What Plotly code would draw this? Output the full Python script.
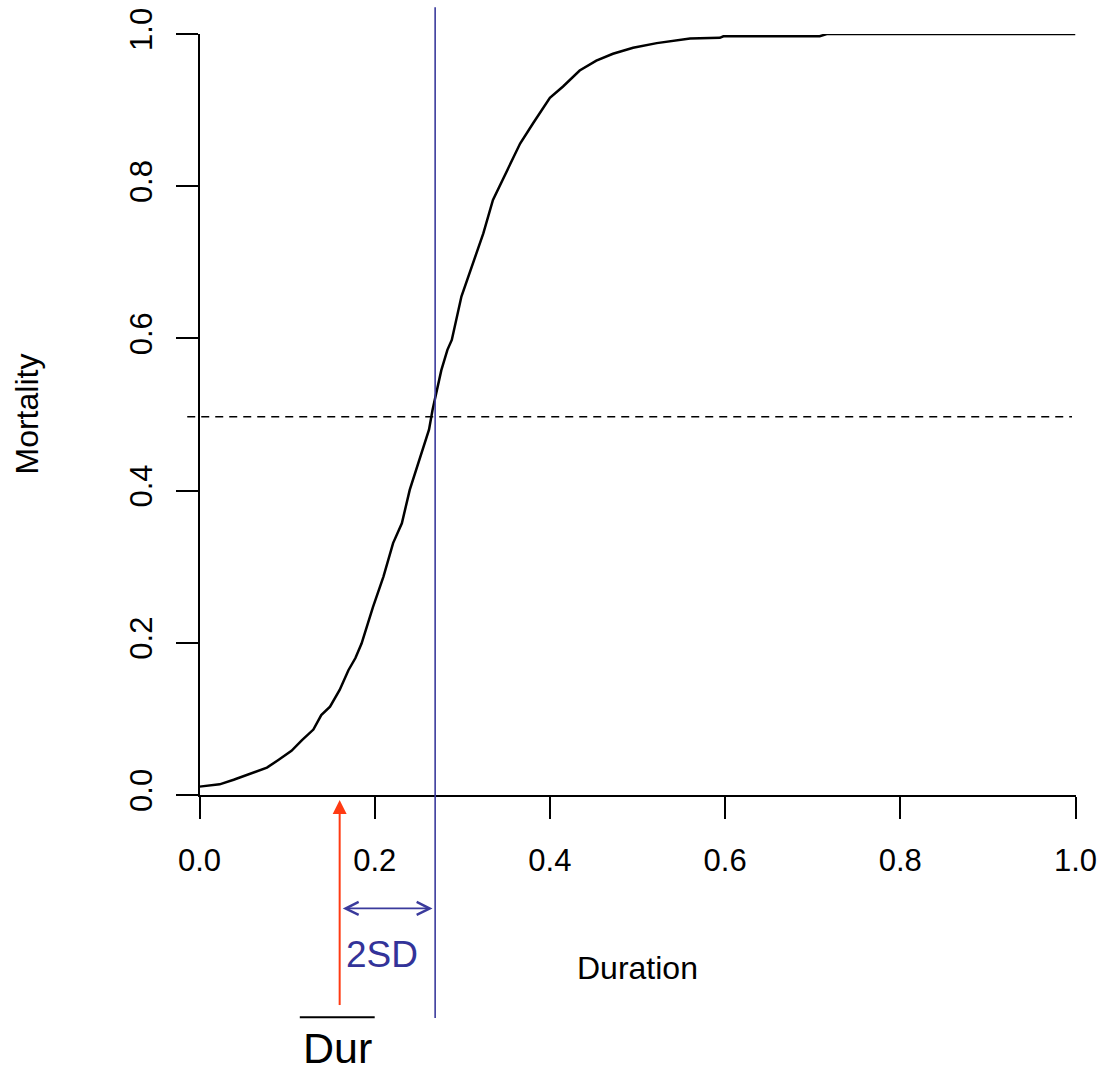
import plotly.graph_objects as go

# ---------------------------------------------------------------- data
duration = [0.000, 0.010, 0.023, 0.039, 0.056, 0.077, 0.090, 0.105, 0.117,
            0.130, 0.139, 0.149, 0.160, 0.170, 0.178, 0.185, 0.198, 0.210,
            0.221, 0.231, 0.240, 0.250, 0.257, 0.262, 0.266, 0.270, 0.276,
            0.283, 0.288, 0.299, 0.313, 0.324, 0.335, 0.353, 0.366, 0.381,
            0.400, 0.415, 0.434, 0.453, 0.472, 0.495, 0.522, 0.560, 0.594,
            0.598, 0.708, 0.716, 1.000]
mortality = [0.011, 0.012, 0.014, 0.020, 0.027, 0.036, 0.046, 0.058, 0.072,
             0.086, 0.105, 0.116, 0.138, 0.164, 0.180, 0.199, 0.247, 0.287,
             0.331, 0.357, 0.401, 0.436, 0.462, 0.480, 0.506, 0.528, 0.558,
             0.585, 0.598, 0.655, 0.703, 0.738, 0.782, 0.826, 0.856, 0.883,
             0.916, 0.931, 0.952, 0.965, 0.974, 0.982, 0.988, 0.994, 0.995,
             0.997, 0.997, 1.000, 1.000]

mean_duration = 0.269        # duration giving ~50 % mortality
dur_bar = 0.16               # mean observed duration
half_mortality = 0.497       # reference mortality level

x_ticks = [0.0, 0.2, 0.4, 0.6, 0.8, 1.0]
x_tick_labels = ["0.0", "0.2", "0.4", "0.6", "0.8", "1.0"]
y_ticks = [0.0, 0.2, 0.4, 0.6, 0.8, 1.0]
y_tick_labels = ["0.0", "0.2", "0.4", "0.6", "0.8", "1.0"]

# ---------------------------------------------------------------- geometry
W, H = 1106, 1074
X0_PX, X1_PX = 199.5, 1075.5      # pixel columns of x = 0 and x = 1
Y0_PX, Y1_PX = 795.0, 34.0        # pixel rows of y = 0 and y = 1
SX = X1_PX - X0_PX
SY = Y0_PX - Y1_PX

FONT = "Liberation Sans, Arial, Helvetica, sans-serif"
BLUE = "#3a3a9c"
TEXT_BLUE = "#333399"
RED = "#ff3a12"

fig = go.Figure()

# mortality curve on the framed axes
fig.add_trace(go.Scatter(x=duration, y=mortality, mode="lines",
                         line=dict(color="black", width=2.5),
                         xaxis="x", yaxis="y", hoverinfo="skip"))

# guides on a full-page overlay that shares the same scale
fig.add_trace(go.Scatter(x=[-0.014, 0.996], y=[half_mortality, half_mortality],
                         mode="lines", line=dict(color="black", width=1.6, dash="8px,6px"),
                         xaxis="x2", yaxis="y2", hoverinfo="skip"))
fig.add_trace(go.Scatter(x=[mean_duration, mean_duration], y=[-0.293, 1.035],
                         mode="lines", line=dict(color=BLUE, width=1.6),
                         xaxis="x2", yaxis="y2", hoverinfo="skip"))
fig.add_trace(go.Scatter(x=[dur_bar, dur_bar], y=[-0.276, -0.02],
                         mode="lines", line=dict(color=RED, width=2),
                         xaxis="x2", yaxis="y2", hoverinfo="skip"))
fig.add_trace(go.Scatter(x=[dur_bar], y=[-0.0066], mode="markers",
                         marker=dict(symbol="arrow-up", size=14, color=RED,
                                     line=dict(width=0)),
                         xaxis="x2", yaxis="y2", hoverinfo="skip"))
# bar over "Dur"
fig.add_trace(go.Scatter(x=[dur_bar - 0.0455, dur_bar + 0.040], y=[-0.292, -0.292],
                         mode="lines", line=dict(color="black", width=2),
                         xaxis="x2", yaxis="y2", hoverinfo="skip"))

annotations = [
    # two-headed 2SD arrow
    dict(x=mean_duration - 0.003, y=-0.149, ax=dur_bar + 0.003, ay=-0.149,
         xref="x2", yref="y2", axref="x2", ayref="y2", text="",
         showarrow=True, arrowhead=5, startarrowhead=5, arrowside="end+start",
         arrowwidth=1.6, arrowsize=1.6, startarrowsize=1.6, arrowcolor=BLUE,
         standoff=0, startstandoff=0, borderpad=0),
    dict(x=dur_bar + 0.005, y=-0.210, xref="x2", yref="y2", text="2SD",
         showarrow=False, xanchor="left", yanchor="middle",
         font=dict(family=FONT, size=37, color=TEXT_BLUE)),
    dict(x=dur_bar - 0.0025, y=-0.333, xref="x2", yref="y2", text="Dur",
         showarrow=False, xanchor="center", yanchor="middle", borderpad=0,
         font=dict(family=FONT, size=43, color="black")),
    dict(x=0.5, y=(H - 968) / H, xref="x domain", yref="paper", text="Duration",
         showarrow=False, xanchor="center", yanchor="middle",
         font=dict(family=FONT, size=32, color="black")),
    dict(x=26 / W, y=0.5, xref="paper", yref="y domain", text="Mortality",
         showarrow=False, xanchor="center", yanchor="middle", textangle=-90,
         font=dict(family=FONT, size=32, color="black")),
]

axis_common = dict(showline=True, linecolor="black", linewidth=2, mirror=False,
                   ticks="outside", ticklen=22, tickwidth=2, tickcolor="black",
                   showgrid=False, zeroline=False, fixedrange=True, automargin=False,
                   tickfont=dict(family=FONT, size=31, color="black"))

fig.update_layout(
    width=W, height=H, autosize=False,
    margin=dict(l=0, r=0, t=0, b=0, pad=0),
    paper_bgcolor="white", plot_bgcolor="rgba(0,0,0,0)",
    showlegend=False,
    xaxis=dict(domain=[X0_PX / W, X1_PX / W], range=[0, 1], anchor="y",
               tickmode="array", tickvals=x_ticks, ticktext=x_tick_labels,
               ticklabelstandoff=15, **axis_common),
    yaxis=dict(domain=[(H - Y0_PX) / H, (H - Y1_PX) / H], range=[0, 1], anchor="x",
               tickmode="array", tickvals=y_ticks, ticktext=y_tick_labels,
               tickangle=-90, ticklabelstandoff=11, **axis_common),
    xaxis2=dict(domain=[0, 1], range=[-X0_PX / SX, (W - X0_PX) / SX],
                anchor="y2", visible=False, fixedrange=True, automargin=False),
    yaxis2=dict(domain=[0, 1], range=[(Y0_PX - H) / SY, Y0_PX / SY],
                anchor="x2", visible=False, fixedrange=True, automargin=False),
    annotations=annotations,
)

fig.write_html("out.html")
